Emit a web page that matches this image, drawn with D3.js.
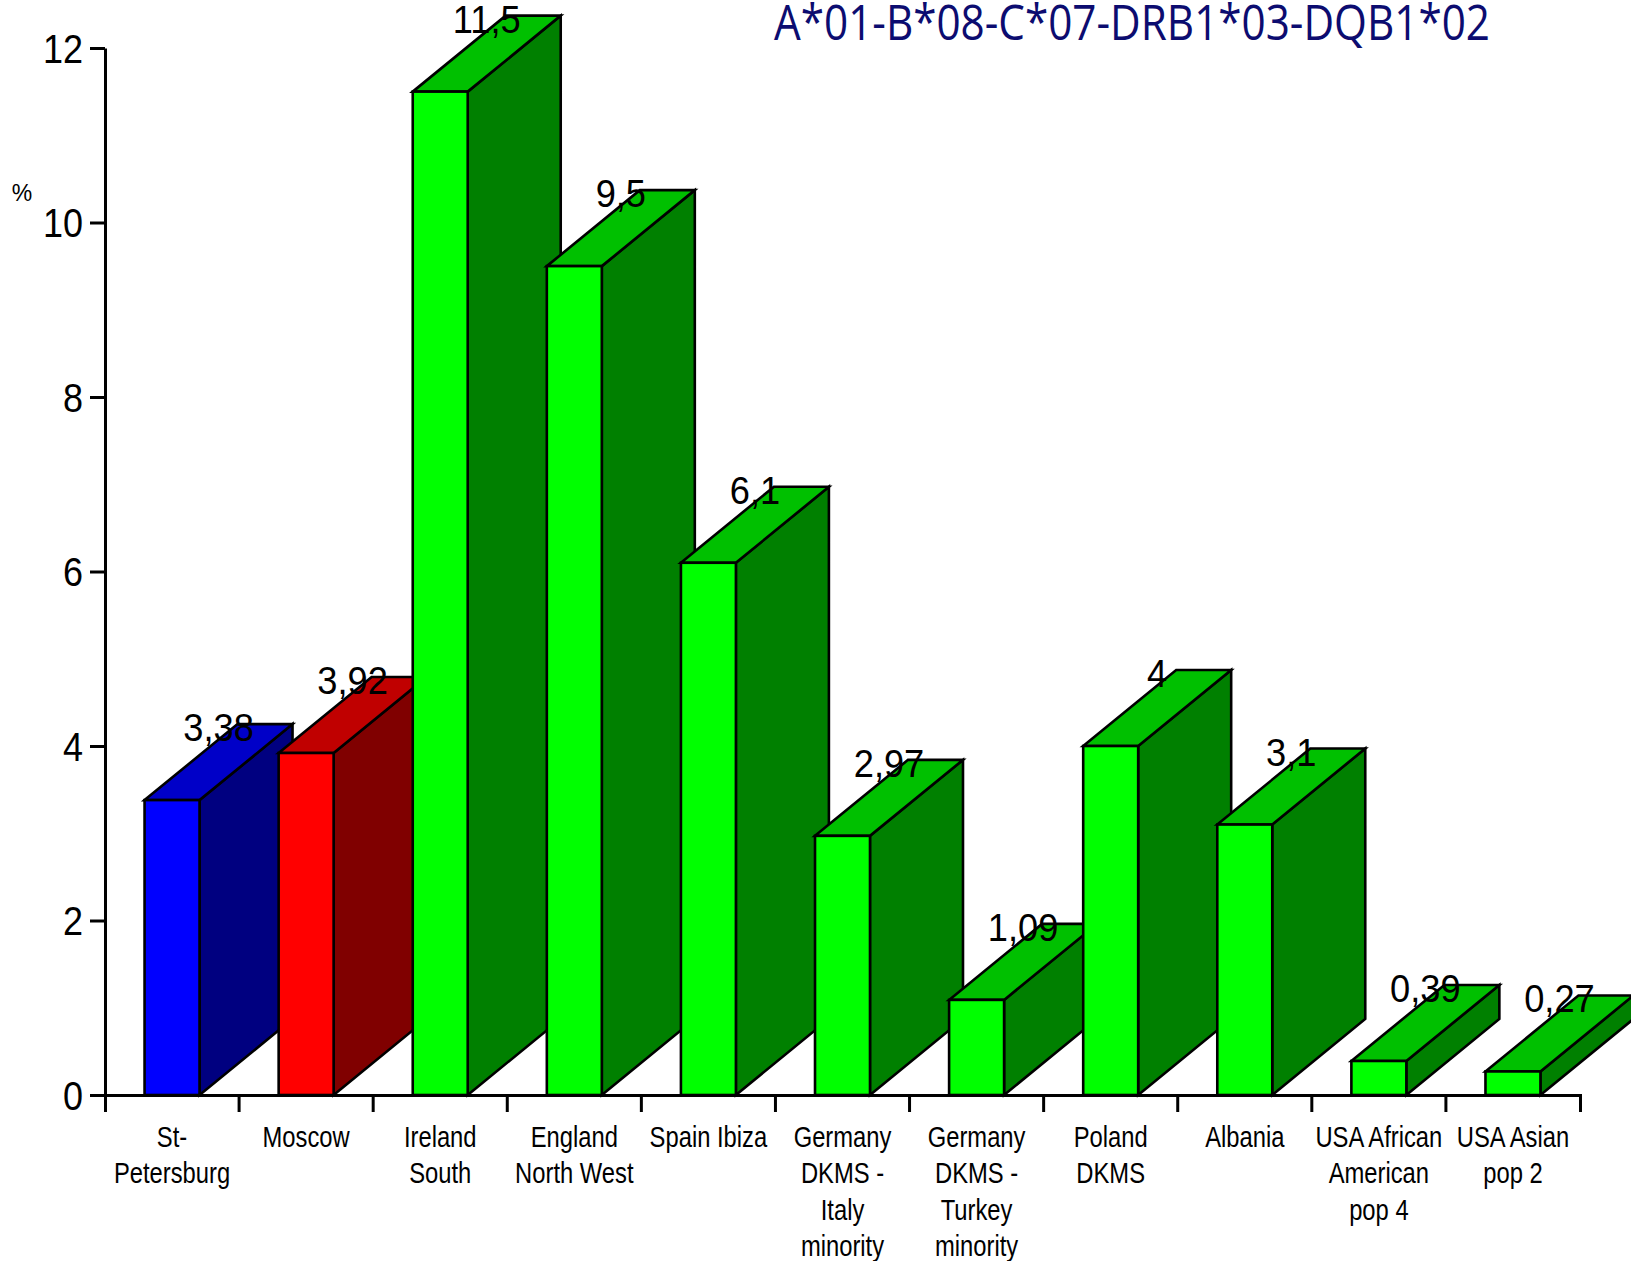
<!DOCTYPE html>
<html>
<head>
<meta charset="utf-8">
<script src="https://cdn.jsdelivr.net/npm/d3@7"></script>
<style>
  body { margin: 0; background: #fff; }
  svg { display: block; }
</style>
</head>
<body>
<svg id="chart" width="1631" height="1261"></svg>
<script>
// Haplotype frequencies (%) by population
const categories = [
  "St-Petersburg", "Moscow", "Ireland South", "England North West", "Spain Ibiza",
  "Germany DKMS - Italy minority", "Germany DKMS - Turkey minority", "Poland DKMS",
  "Albania", "USA African American pop 4", "USA Asian pop 2"
];
const labelLines = [
  ["St-", "Petersburg"], ["Moscow"], ["Ireland", "South"], ["England", "North West"],
  ["Spain Ibiza"], ["Germany", "DKMS -", "Italy", "minority"],
  ["Germany", "DKMS -", "Turkey", "minority"], ["Poland", "DKMS"], ["Albania"],
  ["USA African", "American", "pop 4"], ["USA Asian", "pop 2"]
];
const values = [3.38, 3.92, 11.5, 9.5, 6.1, 2.97, 1.09, 4, 3.1, 0.39, 0.27];
const frontColors = ["#0000ff", "#ff0000", "#00ff00", "#00ff00", "#00ff00", "#00ff00", "#00ff00", "#00ff00", "#00ff00", "#00ff00", "#00ff00"];
const topColors   = ["#0000c8", "#c00000", "#00c000", "#00c000", "#00c000", "#00c000", "#00c000", "#00c000", "#00c000", "#00c000", "#00c000"];
const sideColors  = ["#000080", "#800000", "#008000", "#008000", "#008000", "#008000", "#008000", "#008000", "#008000", "#008000", "#008000"];
const yTicks = [0, 2, 4, 6, 8, 10, 12];
const titleText = "A*01-B*08-C*07-DRB1*03-DQB1*02";

const svg = d3.select("#chart");

const x = d3.scaleBand().domain(categories).range([105, 1580]).paddingInner(0).paddingOuter(0);
const y = d3.scaleLinear().domain([0, 12]).range([1095, 48]);

const barW = x.bandwidth() * 0.41;
const depthX = 93, depthY = 76;   // oblique projection of the bar depth

const data = categories.map((c, i) => ({
  cat: c, value: values[i], lines: labelLines[i],
  front: frontColors[i], top: topColors[i], side: sideColors[i]
}));

// 3D bars, drawn left to right so each front overlaps the neighbour's side
const bars = svg.append("g").attr("class", "bars")
  .attr("stroke", "#000").attr("stroke-width", 2.6).attr("stroke-linejoin", "miter");

data.forEach(d => {
  const x0 = x(d.cat) + (x.bandwidth() - barW) / 2;
  const x1 = x0 + barW;
  const yt = y(d.value), yb = y(0);
  const g = bars.append("g");
  g.append("polygon")
    .attr("points", [[x1, yt], [x1 + depthX, yt - depthY], [x1 + depthX, yb - depthY], [x1, yb]].join(" "))
    .attr("fill", d.side);
  g.append("polygon")
    .attr("points", [[x0, yt], [x0 + depthX, yt - depthY], [x1 + depthX, yt - depthY], [x1, yt]].join(" "))
    .attr("fill", d.top);
  g.append("rect")
    .attr("x", x0).attr("y", yt).attr("width", barW).attr("height", yb - yt)
    .attr("fill", d.front);
});

// Value labels over the top faces (slightly condensed)
svg.append("g").attr("class", "values")
  .selectAll("text").data(data).join("text")
  .attr("transform", d => `translate(${x(d.cat) + x.bandwidth() / 2 + depthX / 2},${y(d.value) - depthY + 17}) scale(0.93,1)`)
  .attr("text-anchor", "middle")
  .attr("font-family", "'Liberation Sans', Arial, sans-serif")
  .attr("font-size", 39)
  .attr("fill", "#000")
  .text(d => String(d.value).replace(".", ","));

// Y axis
const yAxis = svg.append("g").attr("transform", "translate(105,0)")
  .call(d3.axisLeft(y).tickValues(yTicks).tickSize(15).tickSizeOuter(0).tickPadding(7).tickFormat(d3.format("d")));
yAxis.select(".domain").attr("stroke", "#000").attr("stroke-width", 3);
yAxis.selectAll(".tick line").attr("stroke", "#000").attr("stroke-width", 3);
yAxis.selectAll(".tick text")
  .attr("x", null).attr("dy", "0.36em")
  .attr("transform", "translate(-22,0) scale(0.9,1)")
  .attr("font-family", "'Liberation Sans', Arial, sans-serif")
  .attr("font-size", 40).attr("fill", "#000");

svg.append("text")
  .attr("x", 22).attr("y", 201)
  .attr("text-anchor", "middle")
  .attr("font-family", "'Liberation Sans', Arial, sans-serif")
  .attr("font-size", 23)
  .text("%");

// X axis with ticks at the category boundaries
const xAxis = svg.append("g").attr("transform", "translate(0," + y(0) + ")")
  .call(d3.axisBottom(x).tickSize(0).tickSizeOuter(17).tickFormat(""));
xAxis.select(".domain").attr("stroke", "#000").attr("stroke-width", 3).attr("fill", "none");
xAxis.selectAll(".tick").remove();
const bounds = d3.range(1, categories.length).map(i => x.range()[0] + i * x.step());
xAxis.selectAll("line.bound").data(bounds).join("line")
  .attr("class", "bound")
  .attr("x1", d => d).attr("x2", d => d)
  .attr("y1", 0).attr("y2", 17)
  .attr("stroke", "#000").attr("stroke-width", 3);

// Category labels (condensed)
const cl = svg.append("g").attr("class", "cat-labels")
  .selectAll("g").data(data).join("g")
  .attr("transform", d => `translate(${x(d.cat) + x.bandwidth() / 2},1147) scale(0.82,1)`);
cl.selectAll("text").data(d => d.lines).join("text")
  .attr("x", 0).attr("y", (t, i) => i * 36.3)
  .attr("text-anchor", "middle")
  .attr("font-family", "'Liberation Sans', Arial, sans-serif")
  .attr("font-size", 29)
  .attr("fill", "#000")
  .text(t => t);

// Title
svg.append("text")
  .attr("x", 774).attr("y", 40)
  .attr("font-family", "'Open Sans', 'Noto Sans', sans-serif")
  .attr("font-size", 49)
  .attr("fill", "#0c0c70")
  .attr("textLength", 716)
  .attr("lengthAdjust", "spacingAndGlyphs")
  .text(titleText);
</script>
</body>
</html>
